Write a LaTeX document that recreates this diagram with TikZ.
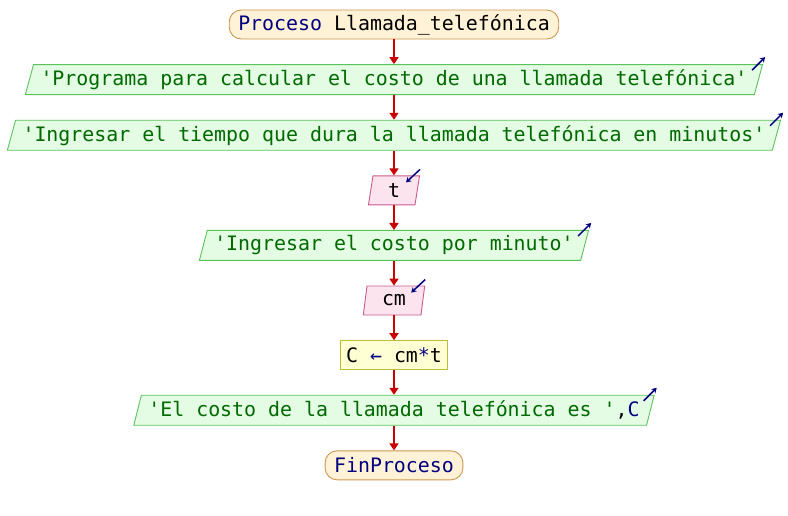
\documentclass[tikz,border=0pt]{standalone}
\usepackage{fontspec}
\setmonofont{DejaVu Sans Mono}
\usetikzlibrary{positioning, shapes.geometric, arrows.meta}
\definecolor{kwblue}{RGB}{0,0,128}
\definecolor{strgreen}{RGB}{0,105,0}
\definecolor{termfill}{RGB}{255,242,214}
\definecolor{termline}{RGB}{205,150,80}
\definecolor{outfill}{RGB}{228,252,228}
\definecolor{outline}{RGB}{90,195,90}
\definecolor{infill}{RGB}{252,228,238}
\definecolor{inline}{RGB}{200,90,140}
\definecolor{procfill}{RGB}{255,255,212}
\definecolor{procline}{RGB}{190,190,60}
\definecolor{arrred}{RGB}{200,0,0}

\begin{document}
\begin{tikzpicture}[
        base/.style={font=\ttfamily\fontsize{19.9}{22}\selectfont,
                     minimum height=29pt, inner ysep=0pt},
        term/.style={base, draw=termline, fill=termfill, line width=0.9pt,
                     rounded corners=12pt, inner xsep=9pt},
        outp/.style={base, trapezium, trapezium stretches=true,
                     trapezium left angle=68, trapezium right angle=112,
                     draw=outline, fill=outfill, line width=0.9pt,
                     inner xsep=7pt, minimum height=30pt, text=strgreen},
        inp/.style={base, trapezium, trapezium stretches=true,
                    trapezium left angle=72, trapezium right angle=108,
                    draw=inline, fill=infill, line width=0.9pt, inner xsep=15pt},
        proc/.style={base, draw=procline, fill=procfill, line width=0.9pt,
                     inner xsep=6pt},
        arr/.style={-{Triangle[width=9pt,length=7pt]}, line width=1.6pt, arrred},
        ioarr/.style={-{Stealth[width=6pt,length=5pt]}, line width=1.5pt, kwblue},
        node distance=24.7pt,
    ]
    \useasboundingbox (0,0) rectangle (788pt,-515pt);

    % Flowchart nodes
    \node[term] (inicio) at (394pt,-24.5pt)
        {{\color{kwblue}Proceso} Llamada\_telefónica};
    \node[outp, below=of inicio] (msg1)
        {'Programa para calcular el costo de una llamada telefónica'};
    \node[outp, below=of msg1] (msg2)
        {'Ingresar el tiempo que dura la llamada telefónica en minutos'};
    \node[inp, below=of msg2] (leer1) {t};
    \node[outp, below=of leer1] (msg3) {'Ingresar el costo por minuto'};
    \node[inp, below=of msg3] (leer2) {cm};
    \node[proc, below=of leer2] (calc)
        {C {\color{kwblue}←} cm{\color{kwblue}*}t};
    \node[outp, below=of calc] (msg4)
        {'El costo de la llamada telefónica es '{\color{black},}{\color{kwblue}C}};
    \node[term, below=of msg4] (fin) {\color{kwblue}FinProceso};

    % Flow arrows
    \foreach \a/\b in {inicio/msg1, msg1/msg2, msg2/leer1, leer1/msg3,
                       msg3/leer2, leer2/calc, calc/msg4, msg4/fin} {
        \draw[arr] (\a.south) -- (\b.north);
    }

    % Output markers
    \foreach \n in {msg1, msg2, msg3, msg4} {
        \draw[ioarr] ([xshift=-11pt, yshift=-6pt]\n.top right corner) -- ++(13pt,13pt);
    }
    % Input markers
    \foreach \n in {leer1, leer2} {
        \draw[ioarr] ([yshift=6pt]\n.top right corner) -- ++(-14pt,-13pt);
    }
\end{tikzpicture}
\end{document}
